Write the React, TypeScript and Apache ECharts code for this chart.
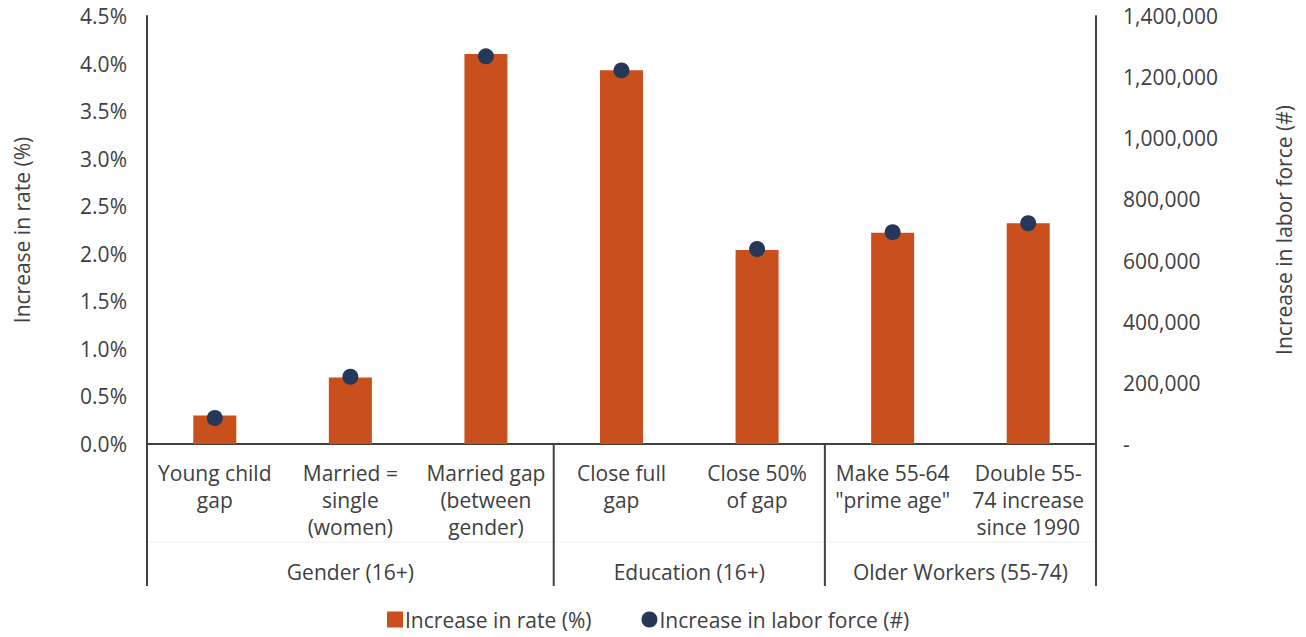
import React, { useEffect, useRef } from "react";
import * as echarts from "echarts";

const categories = [
  "Young child\ngap",
  "Married =\nsingle\n(women)",
  "Married gap\n(between\ngender)",
  "Close full\ngap",
  "Close 50%\nof gap",
  "Make 55-64\n\"prime age\"",
  "Double 55-\n74 increase\nsince 1990",
];
const groups = [
  { name: "Gender (16+)", from: 0, to: 2 },
  { name: "Education (16+)", from: 3, to: 4 },
  { name: "Older Workers (55-74)", from: 5, to: 6 },
];
const rateValues = [0.3, 0.7, 4.1, 3.93, 2.04, 2.22, 2.32];
const laborValues = [85000, 220000, 1268000, 1222000, 638000, 693000, 722000];

const FONT = "'Open Sans', sans-serif";
const FS = 21;
const TEXT = "#404040";
const AXIS = "#404040";
const BAR = "#C9501C";
const DOT = "#253858";

export default function App() {
  const ref = useRef<HTMLDivElement>(null);
  useEffect(() => {
    const chart = echarts.init(ref.current!, null, { renderer: "svg" });
    const gridLeft = 147;
    const gridRight = 210;
    const gridTop = 16;
    const gridBottomY = 444;
    chart.setOption({
      animation: false,
      textStyle: { fontFamily: FONT },
      grid: { left: gridLeft, right: gridRight, top: gridTop, bottom: 637 - gridBottomY, containLabel: false },
      legend: {
        bottom: 2,
        left: 382,
        itemWidth: 16,
        itemHeight: 16,
        itemGap: 50,
        textStyle: { fontFamily: FONT, fontSize: FS, color: TEXT, padding: [0, 0, 0, -3] },
        data: [
          { name: "Increase in rate (%)", icon: "rect" },
          { name: "Increase in labor force (#)", icon: "circle" },
        ],
      },
      xAxis: {
        type: "category",
        data: categories,
        axisLine: { show: true, lineStyle: { color: AXIS, width: 2 } },
        axisTick: { show: false },
        axisLabel: {
          interval: 0,
          margin: 15,
          fontFamily: FONT,
          fontSize: FS,
          lineHeight: 27,
          color: TEXT,
          align: "center",
        },
      },
      yAxis: [
        {
          type: "value",
          min: 0,
          max: 4.5,
          interval: 0.5,
          name: "Increase in rate (%)",
          nameLocation: "middle",
          nameGap: 115,
          nameTextStyle: { fontFamily: FONT, fontSize: FS, color: TEXT },
          axisLine: { show: true, lineStyle: { color: AXIS, width: 2 } },
          axisTick: { show: false },
          splitLine: { show: false },
          axisLabel: {
            margin: 20,
            fontFamily: FONT,
            fontSize: FS,
            color: TEXT,
            formatter: (v: number) => v.toFixed(1) + "%",
          },
        },
        {
          type: "value",
          min: 0,
          max: 1400000,
          interval: 200000,
          name: "Increase in labor force (#)",
          nameLocation: "middle",
          nameGap: 177,
          nameRotate: 90,
          nameTextStyle: { fontFamily: FONT, fontSize: FS, color: TEXT },
          axisLine: { show: true, lineStyle: { color: AXIS, width: 2 } },
          axisTick: { show: false },
          splitLine: { show: false },
          axisLabel: {
            margin: 27,
            fontFamily: FONT,
            fontSize: FS,
            color: TEXT,
            formatter: (v: number) => (v === 0 ? "-" : v.toLocaleString("en-US")),
          },
        },
      ],
      series: [
        {
          name: "Increase in rate (%)",
          type: "bar",
          yAxisIndex: 0,
          data: rateValues,
          barWidth: 43,
          itemStyle: { color: BAR },
        },
        {
          name: "Increase in labor force (#)",
          type: "scatter",
          yAxisIndex: 1,
          data: laborValues,
          symbol: "circle",
          symbolSize: 16,
          itemStyle: { color: DOT, opacity: 1 },
          z: 5,
        },
      ],
    });

    const cx = categories.map((_, i) => chart.convertToPixel({ xAxisIndex: 0 }, i) as number);
    const step = cx[1] - cx[0];
    const leftX = cx[0] - step / 2;
    const rightX = cx[cx.length - 1] + step / 2;
    const bottomLineY = 586;
    const groupLabelY = 572;
    const graphics: any[] = [];
    const vline = (x: number, y1: number, y2: number) => ({
      type: "line",
      shape: { x1: x, y1, x2: x, y2 },
      style: { stroke: AXIS, lineWidth: 2 },
      silent: true,
    });
    graphics.push(vline(leftX, gridBottomY, bottomLineY));
    graphics.push(vline(rightX, gridBottomY, bottomLineY));
    graphics.push({
      type: "line",
      shape: { x1: leftX, y1: 542, x2: rightX, y2: 542 },
      style: { stroke: "#eeeeee", lineWidth: 1 },
      silent: true,
      z: -1,
    });
    groups.forEach((g, gi) => {
      const x0 = cx[g.from] - step / 2;
      const x1 = cx[g.to] + step / 2;
      if (gi > 0) graphics.push(vline(x0, gridBottomY, bottomLineY));
      graphics.push({
        type: "text",
        x: (x0 + x1) / 2,
        y: groupLabelY,
        style: {
          text: g.name,
          fontFamily: FONT,
          fontSize: FS,
          fill: TEXT,
          align: "center",
          verticalAlign: "middle",
        },
        silent: true,
      });
    });
    chart.setOption({ graphic: graphics });

    return () => chart.dispose();
  }, []);
  return (
    <div
      ref={ref}
      style={{ position: "fixed", left: 0, top: 0, width: 1306, height: 637, background: "#fff" }}
    />
  );
}
